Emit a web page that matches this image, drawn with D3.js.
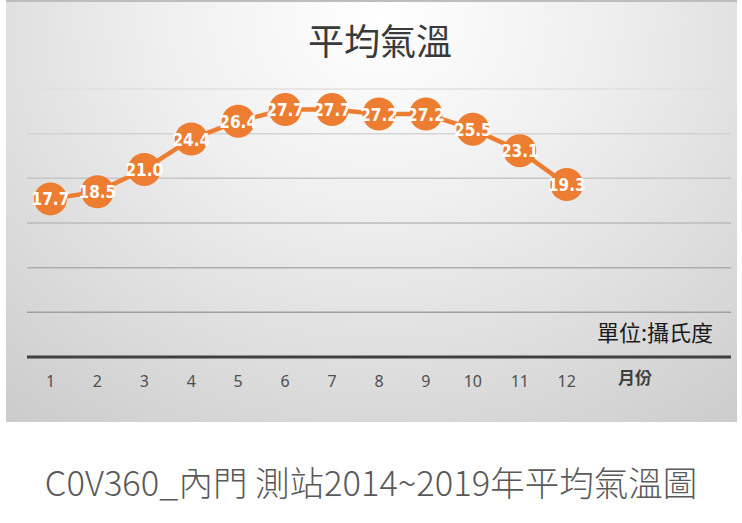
<!DOCTYPE html>
<html><head><meta charset="utf-8">
<script src="https://cdn.jsdelivr.net/npm/d3@7"></script>
<style>html,body{margin:0;padding:0;background:#fff;}svg{display:block;}</style>
</head><body>
<svg id="c" width="742" height="523"></svg>
<script>
const months = [1,2,3,4,5,6,7,8,9,10,11,12];
const monthLabels = ["1","2","3","4","5","6","7","8","9","10","11","12"];
const temps = [17.7,18.5,21.0,24.4,26.4,27.7,27.7,27.2,27.2,25.5,23.1,19.3];
const gridValues = [5,10,15,20,25,30];
const title = "平均氣溫";
const unitText = "單位:攝氏度";
const axisName = "月份";
const caption = "C0V360_內門 測站2014~2019年平均氣溫圖";

const svg = d3.select("#c");
const defs = svg.append("defs");
const rg = defs.append("radialGradient").attr("id","bg")
  .attr("gradientUnits","userSpaceOnUse")
  .attr("cx",380).attr("cy",20).attr("r",520)
  .attr("gradientTransform","translate(380,20) scale(1.15,1) translate(-380,-20)");
rg.append("stop").attr("offset","0%").attr("stop-color","#ffffff");
rg.append("stop").attr("offset","35%").attr("stop-color","#f0f0f0");
rg.append("stop").attr("offset","100%").attr("stop-color","#cbcbcb");

svg.append("rect").attr("x",6).attr("y",0).attr("width",731).attr("height",422).attr("fill","url(#bg)");
svg.append("rect").attr("x",6).attr("y",0).attr("width",731).attr("height",2).attr("fill","#bdbdbd");

const x = d3.scaleLinear().domain([0.5,15.5]).range([27,731]);
const y = d3.scaleLinear().domain([0,30]).range([357,89]);
const gridColor = d3.scaleLinear().domain([5,30]).range(["#a0a0a0","#e0e0e0"]);

svg.append("g").selectAll("line").data(gridValues).join("line")
  .attr("x1",27).attr("x2",731)
  .attr("y1",d=>y(d)).attr("y2",d=>y(d))
  .attr("stroke",d=>gridColor(d)).attr("stroke-width",1.5);

svg.append("line").attr("x1",27).attr("x2",731).attr("y1",y(0)).attr("y2",y(0))
  .attr("stroke","#404040").attr("stroke-width",3);

svg.append("g").selectAll("text").data(months).join("text")
  .attr("x",d=>x(d)).attr("y",387)
  .attr("text-anchor","middle")
  .attr("font-family","'Noto Sans', sans-serif").attr("font-size",16)
  .attr("fill","#505050")
  .text((d,i)=>monthLabels[i]);

svg.append("text").attr("x",635).attr("y",384).attr("text-anchor","middle")
  .attr("font-family","'Noto Sans CJK TC', sans-serif").attr("font-size",17).attr("font-weight","bold")
  .attr("fill","#404040").text(axisName);

svg.append("text").attr("x",713).attr("y",341).attr("text-anchor","end")
  .attr("font-family","'Noto Sans CJK TC', sans-serif").attr("font-size",22).attr("font-weight",400)
  .attr("fill","#1a1a1a").text(unitText);

svg.append("text").attr("x",380).attr("y",55).attr("text-anchor","middle")
  .attr("font-family","'Noto Sans CJK TC', sans-serif").attr("font-size",36).attr("font-weight",400)
  .attr("fill","#3a3a3a").text(title);

const line = d3.line().x((d,i)=>x(months[i])).y(d=>y(d));
svg.append("path").datum(temps).attr("d",line)
  .attr("fill","none").attr("stroke","#ED7D31").attr("stroke-width",4.5);

svg.append("g").selectAll("circle").data(temps).join("circle")
  .attr("cx",(d,i)=>x(months[i])).attr("cy",d=>y(d)).attr("r",16.5)
  .attr("fill","#ED7D31");

svg.append("g").selectAll("text").data(temps).join("text")
  .attr("x",(d,i)=>x(months[i])).attr("y",d=>y(d)+6.5)
  .attr("text-anchor","middle")
  .attr("font-family","'DejaVu Sans Condensed', 'DejaVu Sans', sans-serif")
  .attr("font-stretch","condensed")
  .attr("font-size",17).attr("font-weight","bold")
  .attr("fill","#ffffff")
  .text(d=>d.toFixed(1));

svg.append("text").attr("x",371).attr("y",496).attr("text-anchor","middle")
  .attr("font-family","'Noto Sans CJK TC', sans-serif").attr("font-size",34.5).attr("font-weight",300)
  .attr("fill","#595959").text(caption);
</script>
</body></html>
